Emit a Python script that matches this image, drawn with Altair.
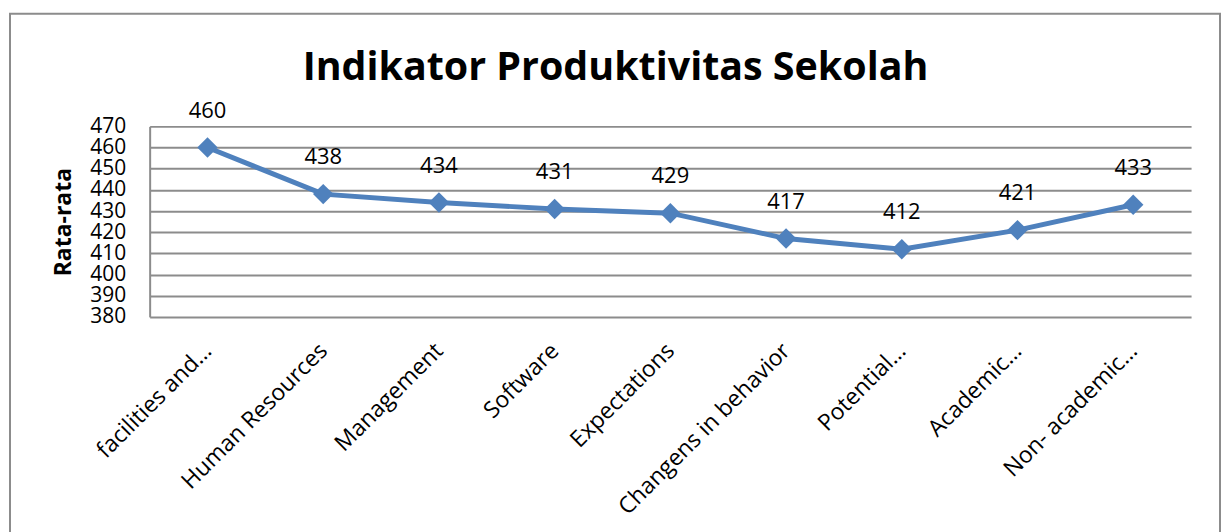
import altair as alt
import pandas as pd

categories = ["facilities and…", "Human Resources", "Management", "Software",
              "Expectations", "Changens in behavior", "Potential…", "Academic…",
              "Non- academic…"]
values = [460, 438, 434, 431, 429, 417, 412, 421, 433]
y_ticks = [380, 390, 400, 410, 420, 430, 440, 450, 460, 470]
title_text = "Indikator Produktivitas Sekolah"

df = pd.DataFrame({"cat": categories, "val": values})

FONT = "Open Sans"
GRID = "#8c8c8c"
BLUE = "#4F81BD"

x_enc = alt.X("cat:N", sort=categories, scale=alt.Scale(paddingInner=0, paddingOuter=0),
              axis=alt.Axis(title=None, labelAngle=-45, labelAlign="right", labelBaseline="middle",
                            labelFontSize=23, labelFont=FONT, labelColor="black",
                            labelPadding=30, ticks=False, domain=False, labelLimit=400, grid=False))
y_enc = alt.Y("val:Q", scale=alt.Scale(domain=[380, 470], nice=False, zero=False),
              axis=alt.Axis(title="Rata-rata", values=y_ticks, tickCount=10, titleFontSize=23,
                            titleFont=FONT, titleFontWeight="bold", titleColor="black",
                            titlePadding=14, labelFontSize=21, labelFont=FONT, labelColor="black",
                            labelOverlap=False, labelPadding=24, ticks=False, domain=True,
                            domainColor=GRID, domainWidth=2, grid=True, gridColor=GRID,
                            gridWidth=2))

base = alt.Chart(df)
line = base.mark_line(color=BLUE, strokeWidth=5).encode(x=x_enc, y=y_enc)
pts = base.mark_point(shape="diamond", filled=True, color=BLUE, size=420, opacity=1).encode(
    x=x_enc, y=y_enc)
labels = base.mark_text(dy=-37, fontSize=22, font=FONT, color="black").encode(
    x=x_enc, y=y_enc, text="val:Q")

one = alt.Data(values=[{"t": title_text}])
border = alt.Chart(one).mark_rect(fill=None, stroke=GRID, strokeWidth=2).encode(
    x=alt.value(-140), x2=alt.value(1073), y=alt.value(-113), y2=alt.value(450))
title = alt.Chart(one).mark_text(fontSize=39.5, font=FONT, fontWeight="bold", color="black",
                                 align="center", baseline="alphabetic").encode(
    x=alt.value(467), y=alt.value(-46), text="t:N")

chart = alt.layer(border, title, line, pts, labels).properties(
    width=1044, height=191,
    autosize=alt.AutoSizeParams(type="none"),
    padding={"left": 142, "top": 118, "right": 30, "bottom": 230},
).configure_view(stroke=None)

chart.save("out.html", embed_options={"renderer": "svg", "actions": False})
